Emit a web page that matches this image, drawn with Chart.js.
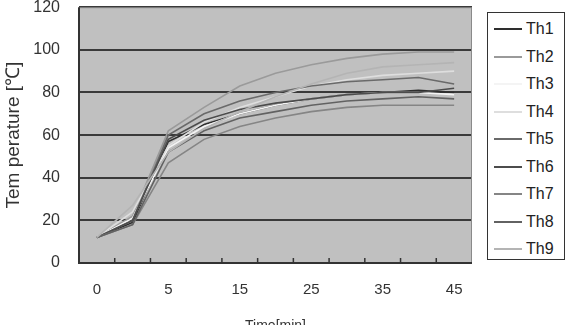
<!DOCTYPE html>
<html>
<head>
<meta charset="utf-8">
<script src="https://cdn.jsdelivr.net/npm/chart.js@4"></script>
<style>
    html, body { margin: 0; padding: 0; background: #fff; overflow: hidden; width: 569px; height: 325px; }
    #wrap { position: relative; width: 569px; height: 335px; }
    #legend {
        position: absolute; left: 487px; top: 12px; width: 76px; height: 246px;
        border: 1px solid #333; background: #fff; box-sizing: content-box;
    }
    .item { position: absolute; left: 0; height: 20px; width: 76px; }
    .item span.line { position: absolute; left: 6px; top: 9px; width: 28px; height: 2px; }
    .item span.txt { position: absolute; left: 38px; top: 0; font: 16px "Liberation Sans Narrow", "Liberation Sans", sans-serif; color: #222; line-height: 20px; }
</style>
</head>
<body>
<div id="wrap">
    <canvas id="chart" width="569" height="335"></canvas>
    <div id="legend"></div>
</div>
<script>
// ============= Temperature chart =============
const times = ['0', '3', '5', '10', '15', '20', '25', '30', '35', '40', '45'];
const yTicks = [0, 20, 40, 60, 80, 100, 120];

const th1 = [12, 19, 57, 65, 70, 74, 77, 79, 80, 81, 80];
const th2 = [12, 22, 62, 73, 83, 89, 93, 96, 98, 99, 99];
const th3 = [12, 21, 54, 64, 70, 74, 77, 79, 80, 80, 79];
const th4 = [12, 24, 55, 66, 73, 78, 83, 86, 88, 89, 90];
const th5 = [12, 20, 60, 70, 76, 80, 83, 85, 86, 87, 84];
const th6 = [12, 20, 58, 67, 72, 75, 77, 79, 80, 80, 82];
const th7 = [12, 18, 47, 58, 64, 68, 71, 73, 74, 74, 74];
const th8 = [12, 18, 52, 62, 68, 71, 74, 76, 77, 78, 77];
const th9 = [12, 27, 52, 63, 71, 78, 84, 89, 92, 93, 94];

const names = ['Th1', 'Th2', 'Th3', 'Th4', 'Th5', 'Th6', 'Th7', 'Th8', 'Th9'];
const series = [th1, th2, th3, th4, th5, th6, th7, th8, th9];
const colors = ['#2e2e2e', '#9a9a9a', '#f4f4f4', '#dedede', '#6a6a6a', '#4c4c4c', '#858585', '#626262', '#b4b4b4'];

const font = '"Liberation Sans", sans-serif';

// grey plot background + frame
const plotBg = {
    id: 'plotBg',
    beforeDraw(chart) {
        const { ctx, chartArea: a } = chart;
        ctx.save();
        ctx.fillStyle = '#c0c0c0';
        ctx.fillRect(a.left, a.top, a.right - a.left, a.bottom - a.top);
        ctx.restore();
    },
    afterDatasetsDraw(chart) {
        const { ctx, chartArea: a } = chart;
        const x = chart.scales.x;
        ctx.save();
        ctx.strokeStyle = '#8a8a8a';
        ctx.lineWidth = 1;
        ctx.strokeRect(a.left + 0.5, a.top + 0.5, a.right - a.left - 1, a.bottom - a.top - 1);
        ctx.strokeStyle = '#333';
        ctx.lineWidth = 2;
        ctx.beginPath();
        ctx.moveTo(a.left, a.top);
        ctx.lineTo(a.left, a.bottom);
        ctx.lineTo(a.right, a.bottom);
        ctx.stroke();
        // small inner tick marks between categories
        ctx.lineWidth = 1.5;
        ctx.beginPath();
        for (let i = 1; i < times.length; i++) {
            const px = (x.getPixelForTick(i - 1) + x.getPixelForTick(i)) / 2;
            ctx.moveTo(px, a.bottom);
            ctx.lineTo(px, a.bottom - 5);
        }
        ctx.stroke();
        ctx.restore();
    }
};

const chart = new Chart(document.getElementById('chart'), {
    type: 'line',
    data: {
        labels: times,
        datasets: series.map((d, i) => ({
            label: names[i],
            data: d,
            borderColor: colors[i],
            borderWidth: 1.6,
            pointRadius: 0,
            tension: 0,
            fill: false
        })).reverse()
    },
    options: {
        responsive: false,
        animation: false,
        layout: { padding: { left: 2, right: 97, top: 0, bottom: 0 } },
        plugins: { legend: { display: false }, tooltip: { enabled: false } },
        scales: {
            x: {
                offset: true,
                grid: { display: false },
                border: { display: false },
                ticks: {
                    color: '#333',
                    font: { family: font, size: 15 },
                    padding: 10,
                    autoSkip: false,
                    maxRotation: 0,
                    callback: (v, i) => (i % 2 === 0 ? times[i] : '')
                },
                title: {
                    display: true,
                    text: 'Time[min]',
                    color: '#333',
                    font: { family: font, size: 14 },
                    padding: { top: 4, bottom: 0 }
                },
                afterFit: s => { s.height = 72; }
            },
            y: {
                min: 0,
                max: 120,
                afterBuildTicks: s => { s.ticks = yTicks.map(v => ({ value: v })); },
                grid: { color: '#3a3a3a', lineWidth: 2, drawTicks: true, tickLength: 19, tickColor: 'rgba(0,0,0,0)' },
                border: { display: false },
                ticks: {
                    color: '#333',
                    font: { family: font, size: 16, lineHeight: 0.9 },
                    padding: 0
                },
                title: {
                    display: true,
                    text: 'Tem perature [℃]',
                    color: '#333',
                    font: { family: font, size: 19 },
                    padding: { top: 0, bottom: 2 }
                },
                afterFit: s => { s.width = 77; }
            }
        }
    },
    plugins: [plotBg]
});

// legend box
const legend = document.getElementById('legend');
legend.innerHTML = names.map((n, i) =>
    `<div class="item" style="top:${6 + i * 27.5}px">
        <span class="line" style="background:${colors[i]}"></span>
        <span class="txt">${n}</span>
    </div>`).join('');
</script>
</body>
</html>
